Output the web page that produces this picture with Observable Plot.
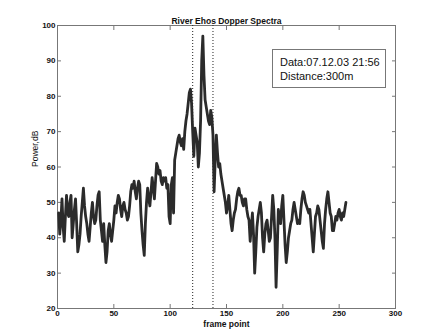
<!DOCTYPE html>
<html>
<head>
<meta charset="utf-8">
<script src="https://cdn.jsdelivr.net/npm/d3@7"></script>
<script src="https://cdn.jsdelivr.net/npm/@observablehq/plot@0.6"></script>
<style>
  html, body { margin: 0; padding: 0; background: #fff; }
  #wrap { position: relative; width: 437px; height: 334px; }
  #legend { position: absolute; left: 272px; top: 49px; width: 114px; height: 39px;
    border: 1px solid #777; background: #fff; font-family: "Liberation Sans", Arial, sans-serif;
    font-size: 11px; line-height: 14px; color: #111; padding: 5px 0 0 7px; box-sizing: border-box;
    white-space: nowrap; }
</style>
</head>
<body>
<div id="wrap"></div>
<script>
const title = "River Ehos Dopper Spectra";
const xLabel = "frame point";
const yLabel = "Power,dB";
const legendLines = ["Data:07.12.03 21:56", "Distance:300m"];
const xTicks = [0, 50, 100, 150, 200, 250, 300];
const yTicks = [20, 30, 40, 50, 60, 70, 80, 90, 100];
const markers = [120, 138];
const power = [
  47, 41, 45, 51, 43, 39, 46, 52, 47, 46,
  50, 52, 40, 44, 48, 51, 44, 36, 38, 41,
  46, 50, 54, 49, 46, 44, 41, 39, 43, 47,
  50, 46, 44, 45, 49, 52, 53, 45, 42, 39,
  44, 38, 33, 36, 42, 44, 41, 39, 42, 45,
  49, 47, 50, 52, 51, 48, 46, 49, 50, 48,
  47, 45, 46, 49, 53, 55, 54, 56, 53, 51,
  54, 56, 55, 47, 42, 38, 35, 44, 50, 54,
  51, 49, 53, 57, 54, 51, 56, 61, 60, 58,
  59, 56, 55, 57, 56, 57, 54, 55, 46, 44,
  55, 57, 47, 62, 64, 66, 68, 69, 67, 66,
  68, 65, 70, 73, 75, 78, 81, 82, 78, 70,
  63, 71, 69, 67, 60, 64, 73, 90, 97, 86,
  79, 77, 75, 73, 72, 76, 74, 69, 53, 62,
  69, 64, 60, 61, 58, 56, 54, 52, 50, 47,
  49, 52, 48, 44, 42, 45, 47, 48, 51, 53,
  54, 52, 52, 50, 49, 51, 51, 48, 46, 45,
  39, 43, 47, 41, 30, 36, 43, 46, 48, 50,
  47, 40, 36, 41, 44, 45, 42, 39, 40, 46,
  52, 48, 40, 26, 36, 48, 46, 44, 49, 52,
  45, 38, 33, 36, 40, 42, 44, 45, 48, 50,
  48, 46, 44, 45, 44, 48, 51, 53, 52, 50,
  49, 48, 47, 48, 44, 40, 36, 41, 46, 47,
  49, 48, 45, 42, 39, 37, 44, 48, 51, 53,
  50, 47, 46, 42, 42, 44, 46, 45, 47, 48,
  46, 45, 47, 46, 48, 50
];
const data = power.map((v, i) => ({x: i + 1, y: v}));

const font = "'Liberation Sans Narrow', 'Liberation Sans', Arial, sans-serif";
const plot = Plot.plot({
  width: 437,
  height: 334,
  marginLeft: 57,
  marginRight: 42,
  marginTop: 25,
  marginBottom: 26,
  style: {fontFamily: font, fontSize: "8px", fontWeight: "bold", color: "#111", background: "#fff"},
  x: {domain: [0, 300]},
  y: {domain: [20, 100]},
  marks: [
    Plot.frame({stroke: "#777"}),
    Plot.axisX(xTicks, {anchor: "bottom", tickSize: -4, tickPadding: 6, stroke: "#777", label: null}),
    Plot.axisX(xTicks, {anchor: "top", tickSize: -4, text: null, stroke: "#777", label: null}),
    Plot.axisY(yTicks, {anchor: "left", tickSize: -4, tickPadding: 6, stroke: "#777", label: null}),
    Plot.axisY(yTicks, {anchor: "right", tickSize: -4, text: null, stroke: "#777", label: null}),
    Plot.ruleX(markers, {stroke: "#222", strokeDasharray: "1,2", strokeWidth: 1}),
    Plot.line(data, {x: "x", y: "y", stroke: "#2b2b2b", strokeWidth: 2.8, strokeLinejoin: "round"}),
    Plot.text([title], {frameAnchor: "top", dy: -8, fontSize: 8.5, fontWeight: "bold"}),
    Plot.text([xLabel], {frameAnchor: "bottom", dy: 18, fontSize: 8.5, fontWeight: "bold"}),
    Plot.text([yLabel], {frameAnchor: "left", dx: -22, rotate: -90, fontSize: 8.5, fontWeight: "normal"})
  ]
});
const wrap = document.getElementById("wrap");
wrap.appendChild(plot);
const lg = document.createElement("div");
lg.id = "legend";
lg.innerHTML = legendLines.map(t => `<div>${t}</div>`).join("");
wrap.appendChild(lg);
</script>
</body>
</html>
